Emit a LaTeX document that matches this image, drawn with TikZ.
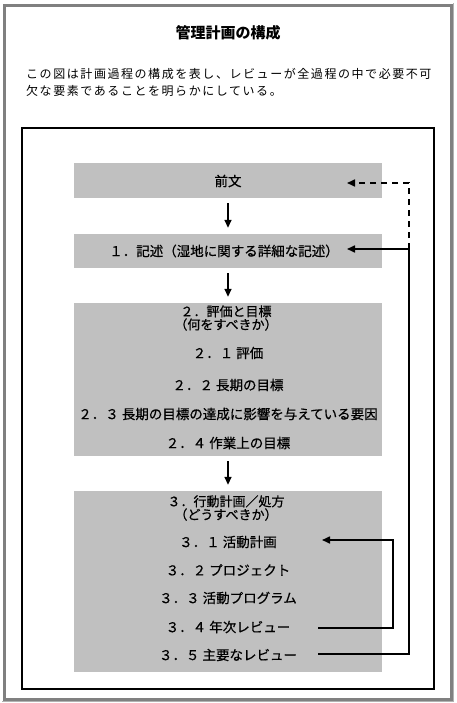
\documentclass[tikz,border=0pt]{standalone}
\usepackage{fontspec}
\newfontfamily\jp[FakeBold=0.6]{Noto Sans CJK JP}
\newfontfamily\jpt{Noto Sans CJK JP}
\newfontfamily\jpsp[LetterSpace=13]{Noto Sans CJK JP}
\usetikzlibrary{arrows.meta,calc}
\definecolor{boxgray}{RGB}{192,192,192}
\definecolor{framegray}{RGB}{128,128,128}
\begin{document}
\begin{tikzpicture}[x=1pt,y=-1pt,
  box/.style={fill=boxgray, draw=none, minimum width=308pt, inner sep=0pt},
  txt/.style={font=\jp\fontsize{13.5}{15}\selectfont, inner sep=0pt, anchor=center},
  hdr/.style={font=\jp\fontsize{13}{11}\selectfont, inner sep=0pt, anchor=center, align=center},
  desc/.style={font=\jpsp\fontsize{12}{15}\selectfont, inner sep=0pt, anchor=west},
  arr/.style={line width=1.6pt, -{Triangle[length=8pt,width=7pt]}},
  link/.style={line width=1.6pt},
  dlink/.style={line width=1.6pt, dash pattern=on 6pt off 5pt}]
\useasboundingbox (0,0) rectangle (456,703);
\fill[white] (0,0) rectangle (456,703);
% outer frame
\draw[framegray, line width=2.5pt] (4.5,5.5) rectangle (451.5,699.5);
\draw[gray!60, line width=0.8pt] (2,701.5) -- (453.5,701.5) -- (453.5,3);
% title and description
\node[font=\jpt\bfseries\fontsize{15}{17}\selectfont, inner sep=0pt] (title) at (228,33) {管理計画の構成};
\node[desc] (d1) at (26,74) {この図は計画過程の構成を表し、レビューが全過程の中で必要不可};
\node[desc] (d2) at (26,91) {欠な要素であることを明らかにしている。};
% inner frame
\draw[line width=1.8pt] (22,128) rectangle (434,689);
% boxes
\node[box, minimum height=35pt] (b0) at (228,180.5) {};
\node[box, minimum height=34pt] (b1) at (228,251) {};
\node[box, minimum height=153pt] (b2) at (228,379.5) {};
\node[box, minimum height=181pt] (b3) at (228,581.5) {};
% texts
\node[txt] (t0) at (228,181) {前文};
\node[txt] (t1) at (224,251) {１．記述（湿地に関する詳細な記述）};
\node[hdr] (t2a) at (226,318) {２．評価と目標\\（何をすべきか）};
\node[txt] (t21) at (228,353) {２．１ 評価};
\node[txt] (t22) at (228,385) {２．２ 長期の目標};
\node[txt] (t23) at (228,414) {２．３ 長期の目標の達成に影響を与えている要因};
\node[txt] (t24) at (228,443) {２．４ 作業上の目標};
\node[hdr] (t3a) at (226,508) {３．行動計画／処方\\（どうすべきか）};
\node[txt] (t31) at (228,542) {３．１ 活動計画};
\node[txt] (t32) at (228,570) {３．２ プロジェクト};
\node[txt] (t33) at (228,598) {３．３ 活動プログラム};
\node[txt] (t34) at (228,627) {３．４ 年次レビュー};
\node[txt] (t35) at (228,655) {３．５ 主要なレビュー};
% down arrows
\draw[arr, shorten <=5pt, shorten >=6pt] (b0) -- (b1);
\draw[arr, shorten <=5pt, shorten >=6pt] (b1) -- (b2);
\draw[arr, shorten <=5pt, shorten >=6pt] (b2) -- (b3);
% right side feedback
\coordinate (p0) at (347,183);
\coordinate (p1) at (347,249);
\coordinate (p31) at (322,540);
\coordinate (q34) at (318,628);
\coordinate (q35) at (318,654);
\draw[dlink, -{Triangle[length=8pt,width=7pt]}] (409,249) -- (409,183) -- (p0);
\draw[link] (q35) -- (409,654) -- (409,249);
\draw[arr] (409,249) -- (p1);
\draw[arr] (q34) -- (393,628) -- (393,540) -- (p31);
\end{tikzpicture}
\end{document}
